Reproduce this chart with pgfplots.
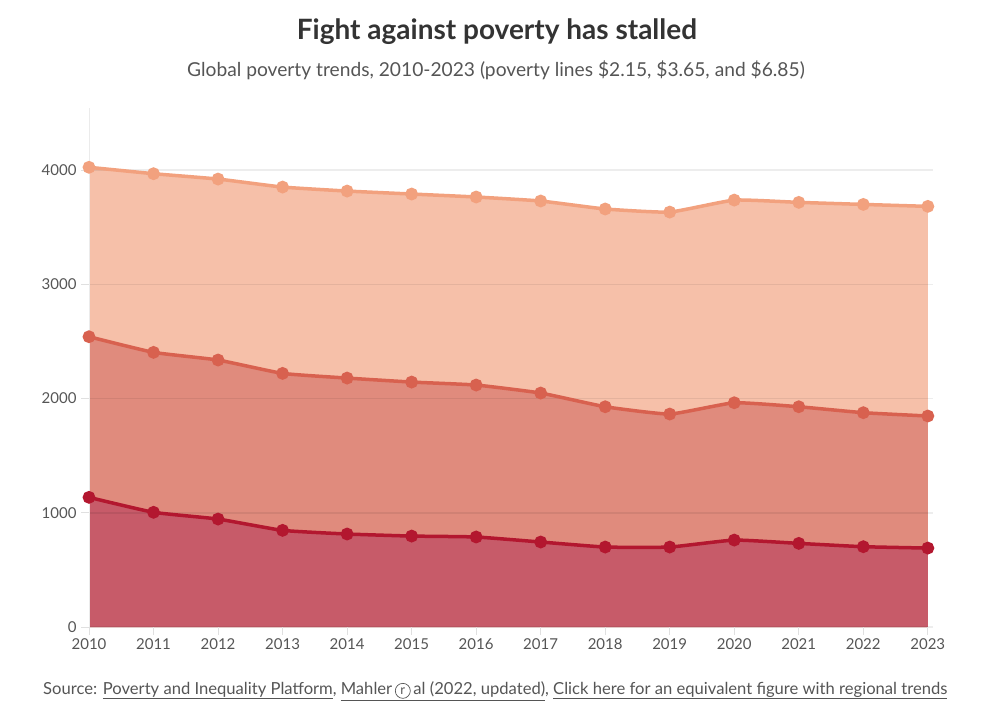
\documentclass[border=0pt]{standalone}
\usepackage{pgfplots}
\pgfplotsset{compat=1.18}
\usepackage{fontspec}
\setmainfont{Lato}
\definecolor{topfill}{HTML}{F6C0A9}
\definecolor{topline}{HTML}{F2A17E}
\definecolor{midfill}{HTML}{E08B7D}
\definecolor{midline}{HTML}{D8614F}
\definecolor{botfill}{HTML}{C75B69}
\definecolor{botline}{HTML}{B3172F}
\definecolor{txt}{HTML}{555555}
\definecolor{ttl}{HTML}{333333}
\newcommand{\circr}{\tikz[baseline=(r.base)]\node[circle, draw=txt, line width=0.7pt, inner sep=1.2pt, minimum size=15pt, font=\fontsize{13}{13}\selectfont, text=txt] (r) {r};}
\begin{document}
\begin{tikzpicture}[x=1pt,y=1pt]
\node[font=\fontsize{28}{32}\selectfont\bfseries, text=ttl] at (497,-32) {Fight against poverty has stalled};
\node[font=\fontsize{19.2}{23}\selectfont, text=txt] at (496,-70) {Global poverty trends, 2010-2023 (poverty lines \$2.15, \$3.65, and \$6.85)};
\begin{axis}[
  set layers,
  at={(89pt,-627pt)}, anchor=south west,
  scale only axis, width=844pt, height=519pt,
  xmin=2010, xmax=2023.08, ymin=0, ymax=4543,
  axis lines=left, axis line style={-, draw=black!8, line width=1pt},
  x axis line style={draw=none},
  xtick={2010,...,2023}, ytick={0,1000,2000,3000,4000},
  tick align=outside, major tick length=8pt,
  tick style={draw=black!12, line width=1pt},
  ymajorgrids, grid style={draw=black, opacity=0.07, line width=1.5pt},
  /pgf/number format/1000 sep={},
  /pgf/number format/assume math mode=true,
  tick label style={font=\fontsize{15}{18}\selectfont, text=txt},
  yticklabel style={xshift=-1pt},
  clip=false,
]
\addplot[draw=none, fill=topfill, smooth, tension=0.25, on layer=axis background] coordinates {
(2010,4024)(2011,3968)(2012,3921)(2013,3851)(2014,3816)(2015,3790)(2016,3764)(2017,3729)(2018,3659)(2019,3632)(2020,3737)(2021,3717)(2022,3699)(2023,3682)} \closedcycle;
\addplot[draw=none, fill=midfill, smooth, tension=0.25, on layer=axis background] coordinates {
(2010,2541)(2011,2404)(2012,2337)(2013,2220)(2014,2179)(2015,2144)(2016,2118)(2017,2048)(2018,1928)(2019,1864)(2020,1963)(2021,1928)(2022,1876)(2023,1847)} \closedcycle;
\addplot[draw=none, fill=botfill, smooth, tension=0.25, on layer=axis background] coordinates {
(2010,1135)(2011,1004)(2012,945)(2013,846)(2014,814)(2015,796)(2016,788)(2017,744)(2018,700)(2019,700)(2020,761)(2021,732)(2022,703)(2023,691)} \closedcycle;
\addplot[topline, line width=3.5pt, smooth, tension=0.25, mark=*, mark size=4.6pt, mark options={draw=none, fill=topline}] coordinates {
(2010,4024)(2011,3968)(2012,3921)(2013,3851)(2014,3816)(2015,3790)(2016,3764)(2017,3729)(2018,3659)(2019,3632)(2020,3737)(2021,3717)(2022,3699)(2023,3682)};
\addplot[midline, line width=3.5pt, smooth, tension=0.25, mark=*, mark size=4.6pt, mark options={draw=none, fill=midline}] coordinates {
(2010,2541)(2011,2404)(2012,2337)(2013,2220)(2014,2179)(2015,2144)(2016,2118)(2017,2048)(2018,1928)(2019,1864)(2020,1963)(2021,1928)(2022,1876)(2023,1847)};
\addplot[botline, line width=3.5pt, smooth, tension=0.25, mark=*, mark size=4.6pt, mark options={draw=none, fill=botline}] coordinates {
(2010,1135)(2011,1004)(2012,945)(2013,846)(2014,814)(2015,796)(2016,788)(2017,744)(2018,700)(2019,700)(2020,761)(2021,732)(2022,703)(2023,691)};
\end{axis}
\node[font=\fontsize{16.6}{20}\selectfont, text=txt, anchor=west, inner sep=0pt] at (43,-691) {Source: \underline{Poverty and Inequality Platform}, \underline{Mahler\,\circr\,al (2022, updated)}, \underline{Click here for an equivalent figure with regional trends}};
\path (0,0) rectangle (990,-726);
\end{tikzpicture}
\end{document}
